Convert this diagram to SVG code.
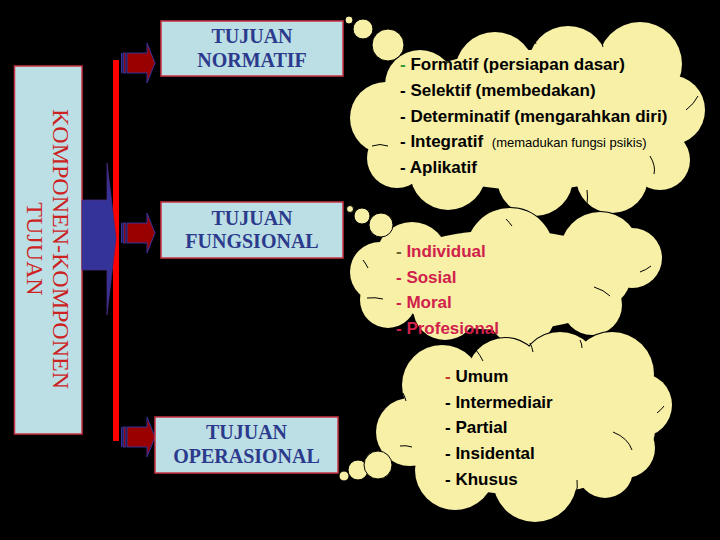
<svg xmlns="http://www.w3.org/2000/svg" xmlns:xlink="http://www.w3.org/1999/xlink" width="720" height="540" viewBox="0 0 720 540">
<style>
.box{fill:#bbdfe5;stroke:#cc3344;stroke-width:1.5}
.btxt{font-family:"Liberation Serif","Times New Roman",serif;font-weight:bold;font-size:20px;fill:#2b3a8c;text-anchor:middle}
.rot{font-family:"Liberation Serif","Times New Roman",serif;font-size:24px;fill:#cc2222;text-anchor:middle}
.lst{font-family:"Liberation Sans",Arial,sans-serif;font-weight:bold;font-size:17px}
.small{font-weight:normal;font-size:13px}
.arc{fill:none;stroke:#000;stroke-width:1}
.bub{fill:#f7f0a6;stroke:#000;stroke-width:1}
.sa{fill:#990000;stroke:#333399;stroke-width:1}
</style>
<defs>
<g id="c1s">
<circle cx="420" cy="85" r="35"/><circle cx="495" cy="72" r="40"/><circle cx="568" cy="66" r="40"/><circle cx="640" cy="64" r="42"/><circle cx="670" cy="110" r="35"/><circle cx="660" cy="160" r="30"/><circle cx="612" cy="177" r="36"/><circle cx="535" cy="178" r="38"/><circle cx="448" cy="172" r="38"/><circle cx="397" cy="158" r="30"/><circle cx="386" cy="118" r="36"/><ellipse cx="530" cy="120" rx="150" ry="70"/>
</g>
<g id="c2s">
<circle cx="412" cy="258" r="36"/><circle cx="510" cy="252" r="44"/><circle cx="600" cy="252" r="40"/><circle cx="632" cy="258" r="30"/><circle cx="592" cy="305" r="30"/><circle cx="522" cy="312" r="34"/><circle cx="445" cy="308" r="32"/><circle cx="388" cy="300" r="28"/><circle cx="380" cy="272" r="30"/><ellipse cx="505" cy="280" rx="125" ry="50"/>
</g>
<g id="c3s">
<circle cx="442" cy="385" r="40"/><circle cx="505" cy="376" r="38"/><circle cx="560" cy="372" r="40"/><circle cx="612" cy="374" r="42"/><circle cx="640" cy="405" r="32"/><circle cx="625" cy="448" r="30"/><circle cx="605" cy="470" r="28"/><circle cx="535" cy="480" r="42"/><circle cx="455" cy="470" r="40"/><circle cx="410" cy="432" r="34"/><ellipse cx="525" cy="430" rx="130" ry="65"/>
</g>
</defs>
<rect width="720" height="540" fill="#000"/>

<g id="node-komponen">
<rect class="box" x="14.5" y="66" width="67.5" height="368"/>
<text class="rot" transform="translate(53,249) rotate(90)">KOMPONEN-KOMPONEN</text>
<text class="rot" transform="translate(27,249) rotate(90)">TUJUAN</text>
</g>

<g id="connectors">
<rect x="113" y="60" width="6" height="381" fill="#ff0000"/>
<polygon points="82,200 107,200 107,163 116,238 107,315 107,270 82,270" fill="#333399" stroke="#4a2a7a" stroke-width="0.8"/>
<g id="arrow-1">
<rect x="121" y="53" width="1.6" height="20" fill="#333399"/>
<rect x="123.6" y="53" width="2.2" height="20" class="sa"/>
<polygon class="sa" points="127,53 147,53 147,43 155,63 147,83 147,73 127,73"/>
</g>
<g id="arrow-2">
<rect x="121" y="223" width="1.6" height="20" fill="#333399"/>
<rect x="123.6" y="223" width="2.2" height="20" class="sa"/>
<polygon class="sa" points="127,223 147,223 147,213 155,233 147,253 147,243 127,243"/>
</g>
<g id="arrow-3">
<rect x="121" y="427" width="1.6" height="20" fill="#333399"/>
<rect x="123.6" y="427" width="2.2" height="20" class="sa"/>
<polygon class="sa" points="127,427 147,427 147,417 155,437 147,457 147,447 127,447"/>
</g>
</g>

<g id="node-normatif">
<rect class="box" x="161" y="21" width="182" height="55"/>
<text class="btxt" x="252" y="43">TUJUAN</text>
<text class="btxt" x="252" y="67">NORMATIF</text>
</g>
<g id="node-fungsional">
<rect class="box" x="161" y="202" width="182" height="56"/>
<text class="btxt" x="252" y="225">TUJUAN</text>
<text class="btxt" x="252" y="248">FUNGSIONAL</text>
</g>
<g id="node-operasional">
<rect class="box" x="155" y="417" width="183" height="56"/>
<text class="btxt" x="246.5" y="439">TUJUAN</text>
<text class="btxt" x="246.5" y="463">OPERASIONAL</text>
</g>

<g id="cloud-1">
<use xlink:href="#c1s" fill="#f7f0a6" stroke="#000" stroke-width="2"/>
<use xlink:href="#c1s" fill="#f7f0a6" stroke="none"/>
<circle class="bub" cx="349" cy="20" r="4"/>
<circle class="bub" cx="363" cy="29" r="10"/>
<circle class="bub" cx="388" cy="45" r="16"/>
<path class="arc" d="M372,146 Q380,143 388,146"/>
<path class="arc" d="M686,110 Q694,104 698,96"/>
<path class="arc" d="M650,156 Q656,166 654,174"/>
<path class="arc" d="M587,190 Q588,197 587,204"/>
<path class="arc" d="M481,200 Q485,207 491,213"/>
<path class="arc" d="M400,190 Q406,188 412,190"/>
<path class="arc" d="M527,31 Q534,36 536,44"/>
<path class="arc" d="M597,33 Q602,40 603,47"/>
<path class="arc" d="M462,46 Q466,41 472,38"/>
<text class="lst" x="400" y="70"><tspan fill="#339933">-</tspan> Formatif (persiapan dasar)</text>
<text class="lst" x="400" y="96">- Selektif (membedakan)</text>
<text class="lst" x="400" y="122">- Determinatif (mengarahkan diri)</text>
<text class="lst" x="400" y="147">- Integratif <tspan class="small" dx="4">(memadukan fungsi psikis)</tspan></text>
<text class="lst" x="400" y="173">- Aplikatif</text>
</g>

<g id="cloud-2">
<use xlink:href="#c2s" fill="#f7f0a6" stroke="#000" stroke-width="2"/>
<use xlink:href="#c2s" fill="#f7f0a6" stroke="none"/>
<circle class="bub" cx="350" cy="209" r="3.5"/>
<circle class="bub" cx="362" cy="216" r="8"/>
<circle class="bub" cx="381" cy="225" r="12"/>
<path class="arc" d="M452,222 Q457,226 460,231"/>
<path class="arc" d="M506,219 Q509,222 512,226"/>
<path class="arc" d="M557,216 Q560,219 563,222"/>
<path class="arc" d="M640,272 Q646,270 651,266"/>
<path class="arc" d="M594,287 Q604,290 610,296"/>
<path class="arc" d="M367,298 Q375,297 383,299"/>
<path class="arc" d="M363,260 Q366,264 368,268"/>
<text class="lst" x="396" y="257" fill="#d0204c"><tspan fill="#666633">-</tspan> Individual</text>
<text class="lst" x="396" y="283" fill="#d0204c">- Sosial</text>
<text class="lst" x="396" y="308" fill="#d0204c">- Moral</text>
<text class="lst" x="396" y="334" fill="#d0204c">- Profesional</text>
</g>

<g id="cloud-3">
<use xlink:href="#c3s" fill="#f7f0a6" stroke="#000" stroke-width="2"/>
<use xlink:href="#c3s" fill="#f7f0a6" stroke="none"/>
<path class="arc" d="M476,350 Q480,355 483,361"/>
<path class="arc" d="M530,343 Q532,347 533,352"/>
<path class="arc" d="M580,340 Q582,344 582,348"/>
<path class="arc" d="M657,413 Q661,410 664,406"/>
<path class="arc" d="M613,432 Q628,438 632,450"/>
<path class="arc" d="M577,480 Q578,487 576,494"/>
<path class="arc" d="M487,503 Q490,508 494,514"/>
<path class="arc" d="M400,446 Q406,445 412,447"/>
<path class="arc" d="M403,393 Q405,397 406,401"/>
<circle class="bub" cx="344" cy="476" r="5"/>
<circle class="bub" cx="358" cy="470" r="10"/>
<circle class="bub" cx="378" cy="465" r="14"/>
<text class="lst" x="445" y="382"><tspan fill="#cc3333">-</tspan> Umum</text>
<text class="lst" x="445" y="408">- Intermediair</text>
<text class="lst" x="445" y="433">- Partial</text>
<text class="lst" x="445" y="459">- Insidental</text>
<text class="lst" x="445" y="485">- Khusus</text>
</g>
</svg>
